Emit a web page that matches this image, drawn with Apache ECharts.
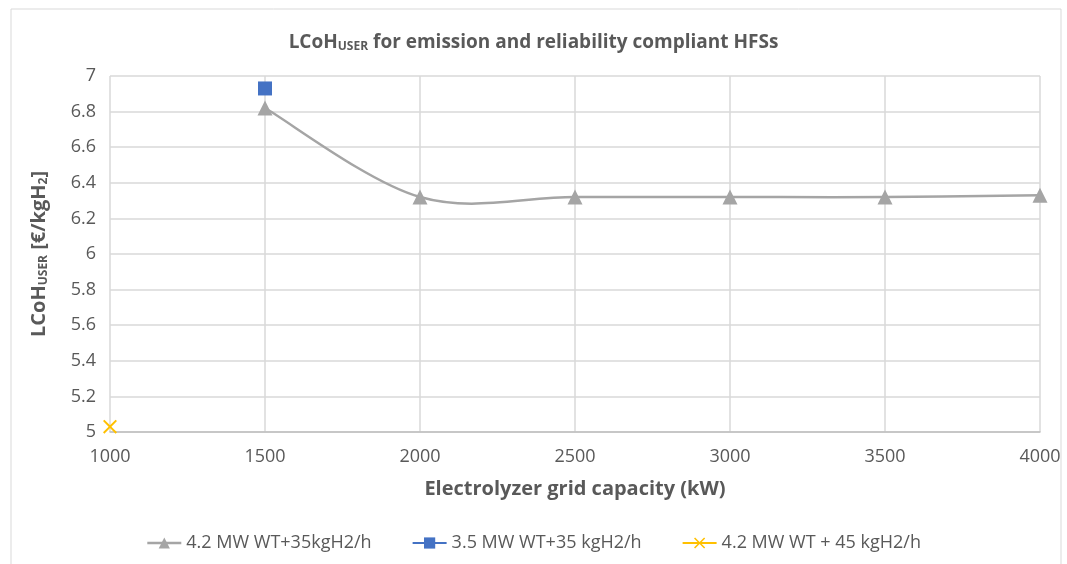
<!DOCTYPE html>
<html><head><meta charset="utf-8">
<script src="https://cdn.jsdelivr.net/npm/echarts@6/dist/echarts.min.js"></script>
<style>html,body{margin:0;padding:0;background:#fff}#c{width:1067px;height:564px}</style>
</head><body><div id="c"></div>
<script>
const capacities = [1500, 2000, 2500, 3000, 3500, 4000];
const wt42_35 = [6.82, 6.32, 6.32, 6.32, 6.32, 6.33];
const wt35_35_x = [1500];
const wt35_35 = [6.93];
const wt42_45_x = [1000];
const wt42_45 = [5.03];
const seriesNames = ['4.2 MW WT+35kgH2/h', '3.5 MW WT+35 kgH2/h', '4.2 MW WT + 45 kgH2/h'];

const zip = (xs, ys) => xs.map((x, i) => [x, ys[i]]);
const FONT = '"Open Sans", "Liberation Sans", sans-serif';
const TXT = '#595959';
const GRAY = '#A5A5A5';
const crossPath = 'path://M0,1 L1,0 L5,4 L9,0 L10,1 L6,5 L10,9 L9,10 L5,6 L1,10 L0,9 L4,5 Z';
const grayData = zip(capacities, wt42_35);

// Excel-like (Catmull-Rom) smoothed curve through the data, drawn via axis scales
function renderSmooth(params, api) {
  if (params.dataIndex !== 0) return null;
  const pts = grayData.map(d => api.coord(d));
  const t = 1 / 6;
  let p = 'M' + pts[0][0] + ',' + pts[0][1];
  for (let i = 0; i < pts.length - 1; i++) {
    const p0 = pts[Math.max(i - 1, 0)], p1 = pts[i], p2 = pts[i + 1], p3 = pts[Math.min(i + 2, pts.length - 1)];
    const c1 = [p1[0] + (p2[0] - p0[0]) * t, p1[1] + (p2[1] - p0[1]) * t];
    const c2 = [p2[0] - (p3[0] - p1[0]) * t, p2[1] - (p3[1] - p1[1]) * t];
    p += ' C' + c1[0] + ',' + c1[1] + ' ' + c2[0] + ',' + c2[1] + ' ' + p2[0] + ',' + p2[1];
  }
  return { type: 'path', shape: { pathData: p }, style: { fill: 'none', stroke: GRAY, lineWidth: 2.5 } };
}

const chart = echarts.init(document.getElementById('c'));
chart.setOption({
  animation: false,
  textStyle: { fontFamily: FONT },
  graphic: [{ type: 'rect', shape: { x: 11, y: 9, width: 1050, height: 560 }, style: { fill: 'none', stroke: '#D9D9D9', lineWidth: 1 } }],
  title: {
    text: 'LCoH{sub|USER} for emission and reliability compliant HFSs',
    left: 'center', top: 27,
    textStyle: {
      fontFamily: FONT, fontSize: 19, fontWeight: 'bold', color: TXT,
      rich: { sub: { fontFamily: FONT, fontSize: 12, fontWeight: 'bold', color: TXT, verticalAlign: 'bottom', padding: [9, 0, 0, 0] } }
    }
  },
  grid: { left: 110, right: 27, top: 76, bottom: 132 },
  legend: {
    bottom: 7, left: 'center', itemWidth: 34, itemHeight: 14, itemGap: 40,
    textStyle: { fontFamily: FONT, fontSize: 18, color: TXT },
    data: [
      { name: seriesNames[0], lineStyle: { color: GRAY, width: 2.5, opacity: 1 } },
      { name: seriesNames[1] },
      { name: seriesNames[2] }
    ]
  },
  xAxis: {
    type: 'value', min: 1000, max: 4000, interval: 500,
    name: 'Electrolyzer grid capacity (kW)', nameLocation: 'middle', nameGap: 47,
    nameTextStyle: { fontFamily: FONT, fontSize: 20, fontWeight: 'bold', color: TXT },
    axisLine: { show: true, lineStyle: { color: '#BFBFBF', width: 1.5 } },
    axisTick: { show: false },
    axisLabel: { fontFamily: FONT, fontSize: 18, color: TXT, margin: 16, formatter: v => String(v) },
    splitLine: { show: true, lineStyle: { color: '#D9D9D9', width: 1.5 } }
  },
  yAxis: {
    type: 'value', min: 5, max: 7, interval: 0.2,
    name: 'LCoH{sub|USER} [€/kgH{sub|2}]', nameLocation: 'middle', nameGap: 60, nameRotate: 90,
    nameTextStyle: {
      fontFamily: FONT, fontSize: 20, fontWeight: 'bold', color: TXT,
      rich: { sub: { fontFamily: FONT, fontSize: 12, fontWeight: 'bold', color: TXT, verticalAlign: 'bottom', padding: [9, 0, 0, 0] } }
    },
    axisLine: { show: false },
    axisTick: { show: false },
    axisLabel: { fontFamily: FONT, fontSize: 18, color: TXT, margin: 14, formatter: v => String(Math.round(v * 10) / 10) },
    splitLine: { show: true, lineStyle: { color: '#D9D9D9', width: 1.5 } }
  },
  series: [
    {
      type: 'custom', name: '__curve', data: grayData, renderItem: renderSmooth, clip: false, z: 1, silent: true
    },
    {
      name: seriesNames[0], type: 'line',
      data: grayData,
      symbol: 'triangle', symbolSize: 15,
      itemStyle: { color: GRAY },
      lineStyle: { color: GRAY, width: 2.5, opacity: 0 },
      clip: false, z: 2
    },
    {
      name: seriesNames[1], type: 'line',
      data: zip(wt35_35_x, wt35_35),
      symbol: 'rect', symbolSize: 14,
      itemStyle: { color: '#4472C4' },
      lineStyle: { color: '#4472C4', width: 2.5 },
      clip: false, z: 3
    },
    {
      name: seriesNames[2], type: 'line',
      data: zip(wt42_45_x, wt42_45),
      symbol: crossPath, symbolSize: 14,
      itemStyle: { color: '#FFC000' },
      lineStyle: { color: '#FFC000', width: 2.5 },
      clip: false, z: 3
    }
  ]
});
</script>
</body></html>
